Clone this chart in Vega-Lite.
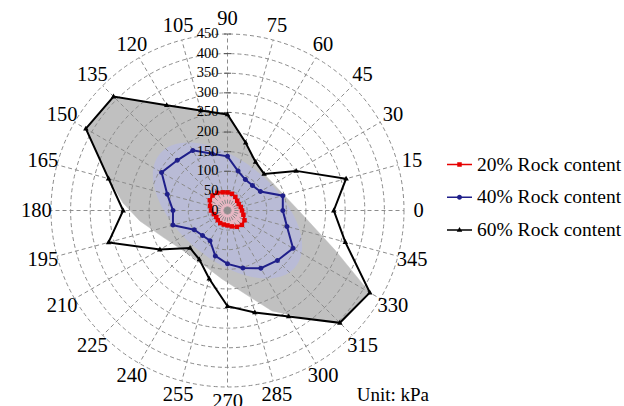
{
  "$schema": "https://vega.github.io/schema/vega-lite/v6.json",
  "width": 353,
  "height": 353,
  "autosize": {"type": "none"},
  "padding": {"left": 51, "top": 34, "right": 220, "bottom": 19},
  "background": "white",
  "title": {
    "text": "Unit: kPa",
    "orient": "bottom",
    "anchor": "end",
    "frame": "group",
    "font": "Liberation Serif",
    "fontSize": 19,
    "fontWeight": "normal",
    "color": "black",
    "dx": 25,
    "offset": -26
  },
  "config": {"view": {"stroke": null}, "font": "Liberation Serif", "axis": {"disable": true}},
  "datasets": {
    "series": [
      {"series": "20% Rock content", "angle": 0, "value": 37},
      {"series": "20% Rock content", "angle": 15, "value": 35},
      {"series": "20% Rock content", "angle": 30, "value": 33},
      {"series": "20% Rock content", "angle": 45, "value": 35},
      {"series": "20% Rock content", "angle": 60, "value": 40},
      {"series": "20% Rock content", "angle": 75, "value": 44},
      {"series": "20% Rock content", "angle": 90, "value": 46},
      {"series": "20% Rock content", "angle": 105, "value": 48},
      {"series": "20% Rock content", "angle": 120, "value": 52},
      {"series": "20% Rock content", "angle": 135, "value": 54},
      {"series": "20% Rock content", "angle": 150, "value": 52},
      {"series": "20% Rock content", "angle": 165, "value": 46},
      {"series": "20% Rock content", "angle": 180, "value": 42},
      {"series": "20% Rock content", "angle": 195, "value": 36},
      {"series": "20% Rock content", "angle": 210, "value": 33},
      {"series": "20% Rock content", "angle": 225, "value": 35},
      {"series": "20% Rock content", "angle": 240, "value": 37},
      {"series": "20% Rock content", "angle": 255, "value": 37},
      {"series": "20% Rock content", "angle": 270, "value": 38},
      {"series": "20% Rock content", "angle": 285, "value": 42},
      {"series": "20% Rock content", "angle": 300, "value": 48},
      {"series": "20% Rock content", "angle": 315, "value": 52},
      {"series": "20% Rock content", "angle": 330, "value": 50},
      {"series": "20% Rock content", "angle": 345, "value": 42},
      {"series": "40% Rock content", "angle": 0, "value": 141},
      {"series": "40% Rock content", "angle": 15, "value": 146},
      {"series": "40% Rock content", "angle": 30, "value": 97},
      {"series": "40% Rock content", "angle": 45, "value": 90},
      {"series": "40% Rock content", "angle": 60, "value": 91},
      {"series": "40% Rock content", "angle": 75, "value": 104},
      {"series": "40% Rock content", "angle": 90, "value": 138},
      {"series": "40% Rock content", "angle": 105, "value": 150},
      {"series": "40% Rock content", "angle": 120, "value": 177},
      {"series": "40% Rock content", "angle": 135, "value": 181},
      {"series": "40% Rock content", "angle": 150, "value": 194},
      {"series": "40% Rock content", "angle": 165, "value": 159},
      {"series": "40% Rock content", "angle": 180, "value": 139},
      {"series": "40% Rock content", "angle": 195, "value": 144},
      {"series": "40% Rock content", "angle": 210, "value": 98},
      {"series": "40% Rock content", "angle": 225, "value": 90},
      {"series": "40% Rock content", "angle": 240, "value": 89},
      {"series": "40% Rock content", "angle": 255, "value": 120},
      {"series": "40% Rock content", "angle": 270, "value": 136},
      {"series": "40% Rock content", "angle": 285, "value": 152},
      {"series": "40% Rock content", "angle": 300, "value": 170},
      {"series": "40% Rock content", "angle": 315, "value": 180},
      {"series": "40% Rock content", "angle": 330, "value": 193},
      {"series": "40% Rock content", "angle": 345, "value": 157},
      {"series": "60% Rock content", "angle": 0, "value": 271},
      {"series": "60% Rock content", "angle": 15, "value": 313},
      {"series": "60% Rock content", "angle": 30, "value": 202},
      {"series": "60% Rock content", "angle": 45, "value": 132},
      {"series": "60% Rock content", "angle": 60, "value": 143},
      {"series": "60% Rock content", "angle": 75, "value": 179},
      {"series": "60% Rock content", "angle": 90, "value": 245},
      {"series": "60% Rock content", "angle": 105, "value": 264},
      {"series": "60% Rock content", "angle": 120, "value": 310},
      {"series": "60% Rock content", "angle": 135, "value": 411},
      {"series": "60% Rock content", "angle": 150, "value": 417},
      {"series": "60% Rock content", "angle": 165, "value": 314},
      {"series": "60% Rock content", "angle": 180, "value": 266},
      {"series": "60% Rock content", "angle": 195, "value": 314},
      {"series": "60% Rock content", "angle": 210, "value": 199},
      {"series": "60% Rock content", "angle": 225, "value": 135},
      {"series": "60% Rock content", "angle": 240, "value": 144},
      {"series": "60% Rock content", "angle": 255, "value": 180},
      {"series": "60% Rock content", "angle": 270, "value": 244},
      {"series": "60% Rock content", "angle": 285, "value": 269},
      {"series": "60% Rock content", "angle": 300, "value": 312},
      {"series": "60% Rock content", "angle": 315, "value": 405},
      {"series": "60% Rock content", "angle": 330, "value": 419},
      {"series": "60% Rock content", "angle": 345, "value": 311}
    ],
    "shadedZone": [
      {"i": 1, "angle": 45, "value": 132},
      {"i": 2, "angle": 358.8, "value": 185},
      {"i": 3, "angle": 339.8, "value": 292},
      {"i": 4, "angle": 330, "value": 419},
      {"i": 5, "angle": 315, "value": 405},
      {"i": 6, "angle": 304.2, "value": 328},
      {"i": 7, "angle": 293.9, "value": 280},
      {"i": 8, "angle": 284.6, "value": 228},
      {"i": 9, "angle": 265.4, "value": 175},
      {"i": 10, "angle": 238.4, "value": 148},
      {"i": 11, "angle": 202.4, "value": 178},
      {"i": 12, "angle": 186.8, "value": 225},
      {"i": 13, "angle": 175.9, "value": 267},
      {"i": 14, "angle": 165, "value": 314},
      {"i": 15, "angle": 150, "value": 417},
      {"i": 16, "angle": 135, "value": 411},
      {"i": 17, "angle": 120, "value": 310},
      {"i": 18, "angle": 105, "value": 264},
      {"i": 19, "angle": 90, "value": 245},
      {"i": 20, "angle": 75, "value": 179},
      {"i": 21, "angle": 60, "value": 143}
    ],
    "ellipses": [
      {"series": "40% Rock content", "a": 225},
      {"series": "20% Rock content", "a": 50}
    ],
    "legendItems": [
      {"series": "20% Rock content"},
      {"series": "40% Rock content"},
      {"series": "60% Rock content"}
    ],
    "rings": [
      {"r": 50}, {"r": 100}, {"r": 150}, {"r": 200}, {"r": 250},
      {"r": 300}, {"r": 350}, {"r": 400}, {"r": 450}
    ],
    "rlabels": [
      {"v": 0}, {"v": 50}, {"v": 100}, {"v": 150}, {"v": 200},
      {"v": 250}, {"v": 300}, {"v": 350}, {"v": 400}, {"v": 450}
    ],
    "spokes": [
      {"angle": 0, "r": 0}, {"angle": 0, "r": 450},
      {"angle": 15, "r": 0}, {"angle": 15, "r": 450},
      {"angle": 30, "r": 0}, {"angle": 30, "r": 450},
      {"angle": 45, "r": 0}, {"angle": 45, "r": 450},
      {"angle": 60, "r": 0}, {"angle": 60, "r": 450},
      {"angle": 75, "r": 0}, {"angle": 75, "r": 450},
      {"angle": 90, "r": 0}, {"angle": 90, "r": 450},
      {"angle": 105, "r": 0}, {"angle": 105, "r": 450},
      {"angle": 120, "r": 0}, {"angle": 120, "r": 450},
      {"angle": 135, "r": 0}, {"angle": 135, "r": 450},
      {"angle": 150, "r": 0}, {"angle": 150, "r": 450},
      {"angle": 165, "r": 0}, {"angle": 165, "r": 450},
      {"angle": 180, "r": 0}, {"angle": 180, "r": 450},
      {"angle": 195, "r": 0}, {"angle": 195, "r": 450},
      {"angle": 210, "r": 0}, {"angle": 210, "r": 450},
      {"angle": 225, "r": 0}, {"angle": 225, "r": 450},
      {"angle": 240, "r": 0}, {"angle": 240, "r": 450},
      {"angle": 255, "r": 0}, {"angle": 255, "r": 450},
      {"angle": 270, "r": 0}, {"angle": 270, "r": 450},
      {"angle": 285, "r": 0}, {"angle": 285, "r": 450},
      {"angle": 300, "r": 0}, {"angle": 300, "r": 450},
      {"angle": 315, "r": 0}, {"angle": 315, "r": 450},
      {"angle": 330, "r": 0}, {"angle": 330, "r": 450},
      {"angle": 345, "r": 0}, {"angle": 345, "r": 450}
    ],
    "angles": [
      {"angle": 0}, {"angle": 15}, {"angle": 30}, {"angle": 45},
      {"angle": 60}, {"angle": 75}, {"angle": 90}, {"angle": 105},
      {"angle": 120}, {"angle": 135}, {"angle": 150}, {"angle": 165},
      {"angle": 180}, {"angle": 195}, {"angle": 210}, {"angle": 225},
      {"angle": 240}, {"angle": 255}, {"angle": 270}, {"angle": 285},
      {"angle": 300}, {"angle": 315}, {"angle": 330}, {"angle": 345}
    ]
  },
  "layer": [
    {
      "data": {"name": "shadedZone"},
      "transform": [
        {"calculate": "datum.value * cos(datum.angle * PI / 180)", "as": "px"},
        {"calculate": "datum.value * sin(datum.angle * PI / 180)", "as": "py"}
      ],
      "mark": {"type": "line", "interpolate": "linear-closed", "fill": "#c0c0c0", "stroke": "#c0c0c0", "strokeWidth": 0.5},
      "encoding": {
        "x": {"field": "px", "type": "quantitative", "scale": {"domain": [-450, 450], "nice": false, "zero": false}},
        "y": {"field": "py", "type": "quantitative", "scale": {"domain": [-450, 450], "nice": false, "zero": false}},
        "order": {"field": "i", "type": "quantitative"}
      }
    },
    {
      "data": {"name": "ellipses"},
      "transform": [{"filter": "datum.series === '40% Rock content'"}],
      "mark": {
        "type": "point",
        "shape": "M1,0C1,0.3068 0.5523,0.5556 0,0.5556C-0.5523,0.5556 -1,0.3068 -1,0C-1,-0.3068 -0.5523,-0.5556 0,-0.5556C0.5523,-0.5556 1,-0.3068 1,0Z",
        "angle": 40,
        "filled": true,
        "color": "#b9bbd6",
        "opacity": 1
      },
      "encoding": {
        "x": {"datum": 0, "type": "quantitative"},
        "y": {"datum": 0, "type": "quantitative"},
        "size": {"field": "a", "type": "quantitative", "scale": {"type": "pow", "exponent": 2, "domain": [0, 450], "range": [0, 124609]}, "legend": null}
      }
    },
    {
      "data": {"name": "ellipses"},
      "transform": [{"filter": "datum.series === '20% Rock content'"}],
      "mark": {
        "type": "point",
        "shape": "M1,0C1,0.366 0.5523,0.663 0,0.663C-0.5523,0.663 -1,0.366 -1,0C-1,-0.366 -0.5523,-0.663 0,-0.663C0.5523,-0.663 1,-0.366 1,0Z",
        "angle": 45,
        "filled": true,
        "color": "#e7b7c3",
        "opacity": 1
      },
      "encoding": {
        "x": {"datum": 0, "type": "quantitative"},
        "y": {"datum": 0, "type": "quantitative"},
        "size": {"field": "a", "type": "quantitative", "legend": null}
      }
    },
    {
      "data": {"name": "rings"},
      "mark": {"type": "point", "shape": "circle", "filled": false, "stroke": "#8c8c8c", "strokeWidth": 1, "strokeDash": [4, 3], "opacity": 1},
      "encoding": {
        "x": {"datum": 0, "type": "quantitative"},
        "y": {"datum": 0, "type": "quantitative"},
        "size": {"field": "r", "type": "quantitative", "legend": null}
      }
    },
    {
      "data": {"name": "spokes"},
      "transform": [
        {"calculate": "datum.r * cos(datum.angle * PI / 180)", "as": "px"},
        {"calculate": "datum.r * sin(datum.angle * PI / 180)", "as": "py"}
      ],
      "mark": {"type": "line", "stroke": "#8c8c8c", "strokeWidth": 1, "strokeDash": [4, 3]},
      "encoding": {
        "x": {"field": "px", "type": "quantitative"},
        "y": {"field": "py", "type": "quantitative"},
        "detail": {"field": "angle", "type": "nominal"},
        "order": {"field": "r", "type": "quantitative"}
      }
    },
    {
      "data": {"name": "rlabels"},
      "transform": [{"filter": "datum.v > 0"}],
      "mark": {"type": "point", "shape": "M-1,0H1", "filled": false, "stroke": "#555555", "strokeWidth": 1, "size": 49, "opacity": 1},
      "encoding": {
        "x": {"datum": 0, "type": "quantitative"},
        "y": {"field": "v", "type": "quantitative"}
      }
    },
    {
      "data": {"name": "series"},
      "transform": [
        {"filter": "datum.series === '60% Rock content'"},
        {"calculate": "datum.value * cos(datum.angle * PI / 180)", "as": "px"},
        {"calculate": "datum.value * sin(datum.angle * PI / 180)", "as": "py"}
      ],
      "mark": {"type": "line", "interpolate": "linear-closed", "strokeWidth": 2, "stroke": "#000000"},
      "encoding": {
        "x": {"field": "px", "type": "quantitative"},
        "y": {"field": "py", "type": "quantitative"},
        "order": {"field": "angle", "type": "quantitative"}
      }
    },
    {
      "data": {"name": "series"},
      "transform": [
        {"filter": "datum.series === '40% Rock content'"},
        {"calculate": "datum.value * cos(datum.angle * PI / 180)", "as": "px"},
        {"calculate": "datum.value * sin(datum.angle * PI / 180)", "as": "py"}
      ],
      "mark": {"type": "line", "interpolate": "linear-closed", "strokeWidth": 2, "stroke": "#1f1f8a"},
      "encoding": {
        "x": {"field": "px", "type": "quantitative"},
        "y": {"field": "py", "type": "quantitative"},
        "order": {"field": "angle", "type": "quantitative"}
      }
    },
    {
      "data": {"name": "series"},
      "transform": [
        {"filter": "datum.series === '20% Rock content'"},
        {"calculate": "datum.value * cos(datum.angle * PI / 180)", "as": "px"},
        {"calculate": "datum.value * sin(datum.angle * PI / 180)", "as": "py"}
      ],
      "mark": {"type": "line", "interpolate": "linear-closed", "strokeWidth": 2, "stroke": "#e60000"},
      "encoding": {
        "x": {"field": "px", "type": "quantitative"},
        "y": {"field": "py", "type": "quantitative"},
        "order": {"field": "angle", "type": "quantitative"}
      }
    },
    {
      "data": {"name": "series"},
      "transform": [
        {"filter": "datum.series === '20% Rock content'"},
        {"calculate": "datum.value * cos(datum.angle * PI / 180)", "as": "px"},
        {"calculate": "datum.value * sin(datum.angle * PI / 180)", "as": "py"}
      ],
      "mark": {"type": "point", "filled": true, "opacity": 1, "size": 625, "color": "#e60000", "shape": "M-0.18,-0.18H0.18V0.18H-0.18Z"},
      "encoding": {
        "x": {"field": "px", "type": "quantitative"},
        "y": {"field": "py", "type": "quantitative"}
      }
    },
    {
      "data": {"name": "series"},
      "transform": [
        {"filter": "datum.series === '40% Rock content'"},
        {"calculate": "datum.value * cos(datum.angle * PI / 180)", "as": "px"},
        {"calculate": "datum.value * sin(datum.angle * PI / 180)", "as": "py"}
      ],
      "mark": {"type": "point", "filled": true, "opacity": 1, "size": 625, "color": "#1f1f8a", "shape": "M0.2,0C0.2,0.11 0.11,0.2 0,0.2C-0.11,0.2 -0.2,0.11 -0.2,0C-0.2,-0.11 -0.11,-0.2 0,-0.2C0.11,-0.2 0.2,-0.11 0.2,0Z"},
      "encoding": {
        "x": {"field": "px", "type": "quantitative"},
        "y": {"field": "py", "type": "quantitative"}
      }
    },
    {
      "data": {"name": "series"},
      "transform": [
        {"filter": "datum.series === '60% Rock content'"},
        {"calculate": "datum.value * cos(datum.angle * PI / 180)", "as": "px"},
        {"calculate": "datum.value * sin(datum.angle * PI / 180)", "as": "py"}
      ],
      "mark": {"type": "point", "filled": true, "opacity": 1, "size": 625, "color": "#000000", "shape": "M0,-0.24L0.22,0.15L-0.22,0.15Z"},
      "encoding": {
        "x": {"field": "px", "type": "quantitative"},
        "y": {"field": "py", "type": "quantitative"}
      }
    },
    {
      "data": {"name": "legendItems"},
      "mark": {"type": "point", "filled": true, "opacity": 0, "size": 625},
      "encoding": {
        "x": {"datum": 0, "type": "quantitative"},
        "y": {"datum": 0, "type": "quantitative"},
        "color": {
          "field": "series",
          "type": "nominal",
          "scale": {
            "domain": ["20% Rock content", "40% Rock content", "60% Rock content"],
            "range": ["#e60000", "#1f1f8a", "#000000"]
          },
          "legend": {
            "title": null,
            "orient": "none",
            "legendX": 396,
            "legendY": 118,
            "padding": 0,
            "symbolSize": 625,
            "symbolOpacity": 1,
            "symbolStrokeWidth": 0,
            "rowPadding": 10.7,
            "labelOffset": 5,
            "labelFont": "Liberation Serif",
            "labelFontSize": 19.5,
            "labelColor": "black",
            "labelLimit": 300
          }
        },
        "shape": {
          "field": "series",
          "type": "nominal",
          "scale": {
            "domain": ["20% Rock content", "40% Rock content", "60% Rock content"],
            "range": [
              "M-1,-0.06H1V0.06H-1ZM-0.18,-0.18H0.18V0.18H-0.18Z",
              "M-1,-0.06H1V0.06H-1ZM0.2,0C0.2,0.11 0.11,0.2 0,0.2C-0.11,0.2 -0.2,0.11 -0.2,0C-0.2,-0.11 -0.11,-0.2 0,-0.2C0.11,-0.2 0.2,-0.11 0.2,0Z",
              "M-1,-0.06H1V0.06H-1ZM0,-0.24L0.22,0.15L-0.22,0.15Z"
            ]
          },
          "legend": {
            "title": null,
            "orient": "none",
            "legendX": 396,
            "legendY": 118,
            "padding": 0,
            "symbolSize": 625,
            "symbolOpacity": 1,
            "symbolStrokeWidth": 0,
            "rowPadding": 10.7,
            "labelOffset": 5,
            "labelFont": "Liberation Serif",
            "labelFontSize": 19.5,
            "labelColor": "black",
            "labelLimit": 300
          }
        }
      }
    },
    {
      "data": {"name": "rlabels"},
      "mark": {"type": "text", "align": "right", "baseline": "middle", "dx": -9, "font": "Liberation Serif", "fontSize": 14.5, "color": "black"},
      "encoding": {
        "x": {"datum": 0, "type": "quantitative"},
        "y": {"field": "v", "type": "quantitative"},
        "text": {"field": "v", "type": "quantitative"}
      }
    },
    {
      "data": {"name": "angles"},
      "transform": [
        {"calculate": "487 * cos(datum.angle * PI / 180)", "as": "lx"},
        {"calculate": "487 * sin(datum.angle * PI / 180)", "as": "ly"}
      ],
      "mark": {"type": "text", "align": "center", "baseline": "middle", "font": "Liberation Serif", "fontSize": 20.5, "color": "black"},
      "encoding": {
        "x": {"field": "lx", "type": "quantitative"},
        "y": {"field": "ly", "type": "quantitative"},
        "text": {"field": "angle", "type": "quantitative"}
      }
    }
  ]
}
